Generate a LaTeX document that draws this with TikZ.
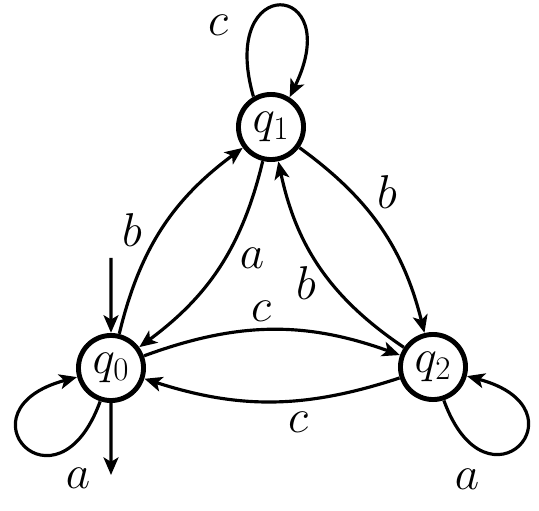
\documentclass[tikz,border=0pt]{standalone}
\usetikzlibrary{arrows.meta}
\DeclareMathSizes{24.88}{24.88}{17.28}{12}
\begin{document}
\begin{tikzpicture}[x=0.02cm,y=0.02cm,
  state/.style={circle,draw,line width=2.8pt,minimum size=1.2cm,inner sep=0pt,font=\Huge,scale=1.085},
  lbl/.style={inner sep=0pt,font=\Huge,scale=1.085},
  edge/.style={line width=1.8pt,-{Stealth[length=10pt,width=8.5pt,inset=2.5pt]}},
]
\useasboundingbox (0,0) rectangle (539,511);
\node[state] (q0) at (111,143) {$q_0$};
\node[state] (q1) at (271,384) {$q_1$};
\node[state] (q2) at (433,144) {$q_2$};
\coordinate (init) at (111,253);
\coordinate (out) at (111,36);
\draw[edge] (init) -- (q0);
\draw[edge] (q0) -- (out);
\draw[edge] (q0) to[bend left=20] (q1);
\draw[edge] (q1) to[bend left=20] (q0);
\draw[edge] (q1) to[bend left=20] (q2);
\draw[edge] (q2) to[bend left=22] (q1);
\draw[edge] (q0) to[bend left=20] (q2);
\draw[edge] (q2) to[bend left=18] (q0);
\draw[edge] (q0.252) to[out=250,in=195,min distance=2.54cm] (q0.195);
\draw[edge] (q1.120) to[out=106,in=64,min distance=2.6cm] (q1.58);
\draw[edge] (q2.288) to[out=290,in=345,min distance=2.54cm] (q2.345);
\node[lbl] (lc1) at (218,486) {$c$};
\node[lbl] (lb01) at (132,281) {$b$};
\node[lbl] (la10) at (252,253) {$a$};
\node[lbl] (lb12) at (387,319) {$b$};
\node[lbl] (lb21) at (306,228) {$b$};
\node[lbl] (lc02) at (261,200) {$c$};
\node[lbl] (lc20) at (298,89) {$c$};
\node[lbl] (la0) at (78,33) {$a$};
\node[lbl] (la2) at (467,32) {$a$};
\end{tikzpicture}
\end{document}
